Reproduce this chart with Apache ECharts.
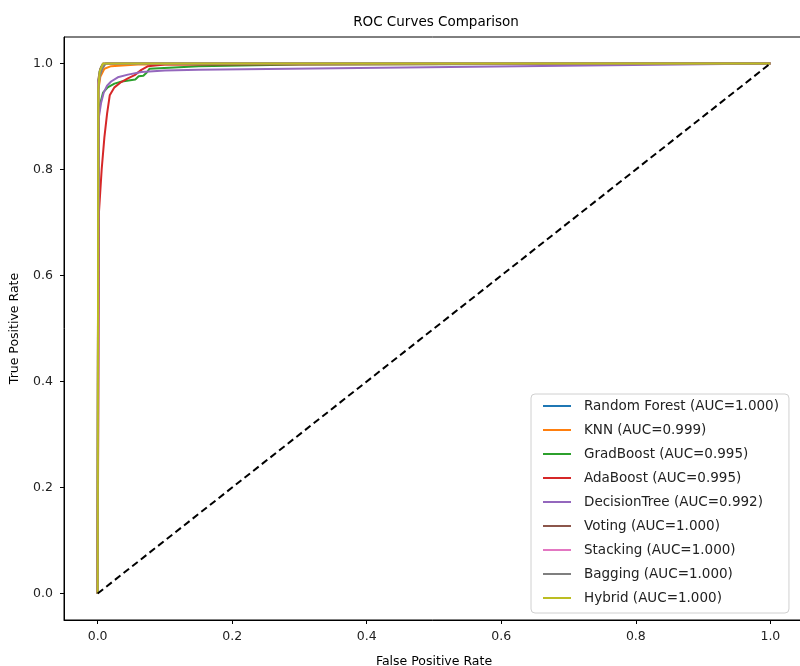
<!DOCTYPE html>
<html>
<head>
<meta charset="utf-8">
<script src="https://cdn.jsdelivr.net/npm/echarts@6/dist/echarts.min.js"></script>
<style>
  html, body { margin: 0; padding: 0; background: #fff; }
  #container { width: 800px; height: 666px; }
</style>
</head>
<body>
<div id="container"></div>
<script>
// tick labels
const xTicks = [0, 0.2, 0.4, 0.6, 0.8, 1.0]
const yTicks = [0, 0.2, 0.4, 0.6, 0.8, 1.0]

// ROC points (fpr / tpr)
const rfFpr = [0, 0.001, 0.003, 0.006, 0.012, 1]
const rfTpr = [0, 0.96, 0.985, 0.995, 1, 1]

const knnFpr = [0, 0.001, 0.004, 0.01, 0.02, 0.06, 1]
const knnTpr = [0, 0.95, 0.975, 0.99, 0.995, 0.998, 1]

const gbFpr = [0, 0.001, 0.004, 0.008, 0.015, 0.025, 0.036, 0.056, 0.061, 0.068, 0.073, 0.077, 0.15, 0.3, 1]
const gbTpr = [0, 0.9, 0.925, 0.945, 0.955, 0.962, 0.966, 0.97, 0.976, 0.977, 0.983, 0.99, 0.995, 0.998, 1]

const adaFpr = [0, 0.002, 0.006, 0.01, 0.014, 0.018, 0.025, 0.035, 0.045, 0.055, 0.065, 0.075, 0.1, 1]
const adaTpr = [0, 0.72, 0.8, 0.86, 0.905, 0.94, 0.955, 0.965, 0.972, 0.978, 0.988, 0.995, 0.998, 1]

const dtFpr = [0, 0.002, 0.005, 0.009, 0.014, 0.02, 0.03, 0.045, 0.065, 0.1, 0.15, 1]
const dtTpr = [0, 0.9, 0.925, 0.945, 0.958, 0.966, 0.974, 0.979, 0.984, 0.987, 0.988, 1]

const votFpr = [0, 0.001, 0.004, 0.008, 1]
const votTpr = [0, 0.97, 0.99, 1, 1]

const stkFpr = [0, 0.001, 0.004, 0.009, 1]
const stkTpr = [0, 0.96, 0.985, 1, 1]

const bagFpr = [0, 0.001, 0.003, 0.007, 0.012, 1]
const bagTpr = [0, 0.95, 0.975, 0.99, 1, 1]

const hybFpr = [0, 0.001, 0.003, 0.008, 1]
const hybTpr = [0, 0.95, 0.985, 1, 1]

const diagFpr = [0, 1]
const diagTpr = [0, 1]

const names = [
  'Random Forest (AUC=1.000)', 'KNN (AUC=0.999)', 'GradBoost (AUC=0.995)',
  'AdaBoost (AUC=0.995)', 'DecisionTree (AUC=0.992)', 'Voting (AUC=1.000)',
  'Stacking (AUC=1.000)', 'Bagging (AUC=1.000)', 'Hybrid (AUC=1.000)'
]
const colors = ['#1f77b4', '#ff7f0e', '#2ca02c', '#d62728', '#9467bd',
                '#8c564b', '#e377c2', '#7f7f7f', '#bcbd22']
const fprs = [rfFpr, knnFpr, gbFpr, adaFpr, dtFpr, votFpr, stkFpr, bagFpr, hybFpr]
const tprs = [rfTpr, knnTpr, gbTpr, adaTpr, dtTpr, votTpr, stkTpr, bagTpr, hybTpr]

function pairs(xs, ys) {
  return xs.map((x, i) => [x, ys[i]])
}

const font = 'DejaVu Sans'

let series = names.map((n, i) => ({
  name: n,
  type: 'line',
  data: pairs(fprs[i], tprs[i]),
  showSymbol: false,
  color: colors[i],
  lineStyle: { width: 2, color: colors[i] },
  z: 2 + i
}))

// chance line
series.push({
  name: 'chance',
  type: 'line',
  data: pairs(diagFpr, diagTpr),
  showSymbol: false,
  lineStyle: { width: 2, color: '#000', type: [7, 4] },
  z: 20
})

let chartDom = document.getElementById('container')
let myChart = echarts.init(chartDom, null, { renderer: 'canvas' })
let option = {
  animation: false,
  backgroundColor: '#fff',
  title: {
    text: 'ROC Curves Comparison',
    left: 431,
    textAlign: 'center',
    top: 10,
    textStyle: { fontFamily: font, fontSize: 13.5, fontWeight: 'normal', color: '#000' }
  },
  grid: {
    left: 64,
    top: 37,
    right: -4,
    bottom: 46,
    outerBoundsMode: 'none',
    containLabel: false,
    show: true,
    borderColor: '#000',
    borderWidth: 1
  },
  legend: {
    data: names,
    orient: 'vertical',
    left: 531,
    top: 394,
    padding: [5, 10, 8, 12],
    icon: 'rect',
    itemWidth: 28,
    itemHeight: 2,
    itemGap: 10,
    backgroundColor: 'rgba(255,255,255,0.85)',
    borderColor: '#d0d0d0',
    borderWidth: 1,
    borderRadius: 4,
    textStyle: { fontFamily: font, fontSize: 13.5, lineHeight: 14, color: '#222', padding: [0, 0, 0, 8] }
  },
  xAxis: {
    type: 'value',
    min: -0.05,
    max: 1.05,
    name: 'False Positive Rate',
    nameLocation: 'middle',
    nameGap: 35,
    nameTextStyle: { fontFamily: font, fontSize: 12.5, color: '#000' },
    axisLine: { show: true, onZero: false, lineStyle: { color: '#000', width: 1 } },
    axisTick: { show: true, customValues: xTicks, length: 4, lineStyle: { color: '#000' } },
    axisLabel: {
      customValues: xTicks,
      formatter: v => v.toFixed(1),
      fontFamily: font, fontSize: 12.5, color: '#222', margin: 10
    },
    splitLine: { show: false }
  },
  yAxis: {
    type: 'value',
    min: -0.05,
    max: 1.05,
    name: 'True Positive Rate',
    nameLocation: 'middle',
    nameGap: 43,
    nameRotate: 90,
    nameTextStyle: { fontFamily: font, fontSize: 12.5, color: '#000' },
    axisLine: { show: true, onZero: false, lineStyle: { color: '#000', width: 1 } },
    axisTick: { show: true, customValues: yTicks, length: 4, lineStyle: { color: '#000' } },
    axisLabel: {
      customValues: yTicks,
      formatter: v => v.toFixed(1),
      fontFamily: font, fontSize: 12.5, color: '#222', margin: 11
    },
    splitLine: { show: false }
  },
  series: series
}

option && myChart.setOption(option)
</script>
</body>
</html>
